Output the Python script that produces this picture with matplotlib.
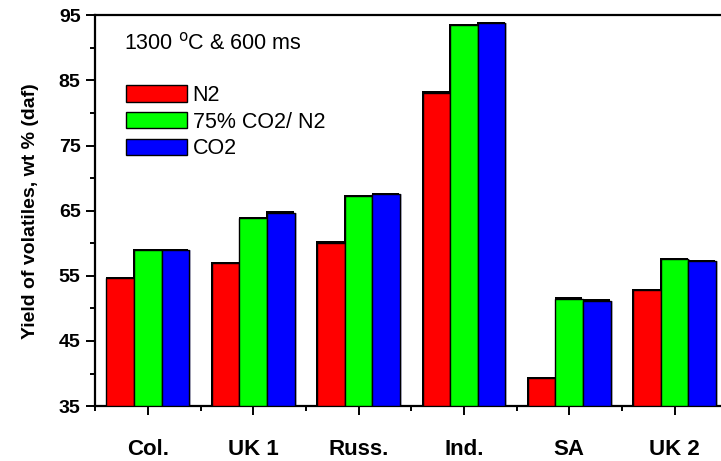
import numpy as np
import matplotlib
matplotlib.use("Agg")
import matplotlib.pyplot as plt
import matplotlib.ticker as ticker
import matplotlib.transforms as mtransforms

# ── Data ──────────────────────────────────────────────────────────────────────
coals  = ['Col.', 'UK 1', 'Russ.', 'Ind.', 'SA', 'UK 2']
n2     = [54.6, 57.0, 60.1, 83.1, 39.3, 52.8]
mix    = [58.9, 63.8, 67.2, 93.5, 51.5, 57.6]
co2    = [58.9, 64.7, 67.5, 93.8, 51.2, 57.3]
series = [('N2', n2, '#ff0000'),
          ('75% CO2/ N2', mix, '#00ff00'),
          ('CO2', co2, '#0000ff')]

plt.rcParams['font.family'] = ['Liberation Sans', 'DejaVu Sans']

fig = plt.figure(figsize=(7.21, 4.61), dpi=100)
ax = fig.add_axes([0.132, 0.119, 0.868, 0.848])

x = np.arange(1, len(coals) + 1)
w = 0.262

# shadows offset in pixels (dark one up-left, light one to the right)
dark = mtransforms.offset_copy(ax.transData, fig=fig, x=-0.8, y=1.3, units='dots')
light = mtransforms.offset_copy(ax.transData, fig=fig, x=2.0, y=0, units='dots')

for i, (name, vals, col) in enumerate(series):
    pos = x + (i - 1) * w
    h = np.array(vals) - 35
    ax.bar(pos, h, w, bottom=35, color='#c4c4dc', transform=light, zorder=1)
    ax.bar(pos, h, w, bottom=35, color='black', transform=dark, zorder=2)
    ax.bar(pos, h, w, bottom=35, color=col, edgecolor='black',
           linewidth=1.0, label=name, zorder=3)

ax.set_ylim(35, 95)
ax.set_xlim(0.5, 6.44)
ax.set_yticks(np.arange(35, 96, 10))
ax.yaxis.set_minor_locator(ticker.MultipleLocator(5))
ax.set_xticks(x)
ax.set_xticklabels(coals)
ax.xaxis.set_minor_locator(ticker.FixedLocator(np.arange(0.5, 6.6, 1)))

for lab in ax.get_yticklabels() + ax.get_xticklabels():
    lab.set_fontweight('bold')
ax.tick_params(axis='y', which='major', direction='out', length=6.5, width=1.4,
               labelsize=14, pad=4)
ax.tick_params(axis='y', which='minor', direction='out', length=3.5, width=1.4)
ax.tick_params(axis='x', which='major', direction='out', length=6.5, width=1.4,
               labelsize=16, pad=17)
ax.tick_params(axis='x', which='minor', direction='out', length=3.5, width=1.4)

for side in ['left', 'bottom', 'top']:
    ax.spines[side].set_linewidth(1.6)
ax.spines['right'].set_visible(False)

ax.set_ylabel('Yield of volatiles, wt % (daf)', fontsize=14,
              fontweight='bold', labelpad=14)

ax.text(0.046, 0.928, '1300 $^{\\mathrm{o}}$C & 600 ms', transform=ax.transAxes,
        fontsize=15.5, va='center', ha='left')

ax.legend(loc='upper left', bbox_to_anchor=(0.049, 0.822), frameon=False,
          fontsize=15.5, handlelength=2.85, handleheight=0.8,
          handletextpad=0.25, labelspacing=0.27, borderaxespad=0,
          borderpad=0)

plt.savefig('out.png', dpi=100)
